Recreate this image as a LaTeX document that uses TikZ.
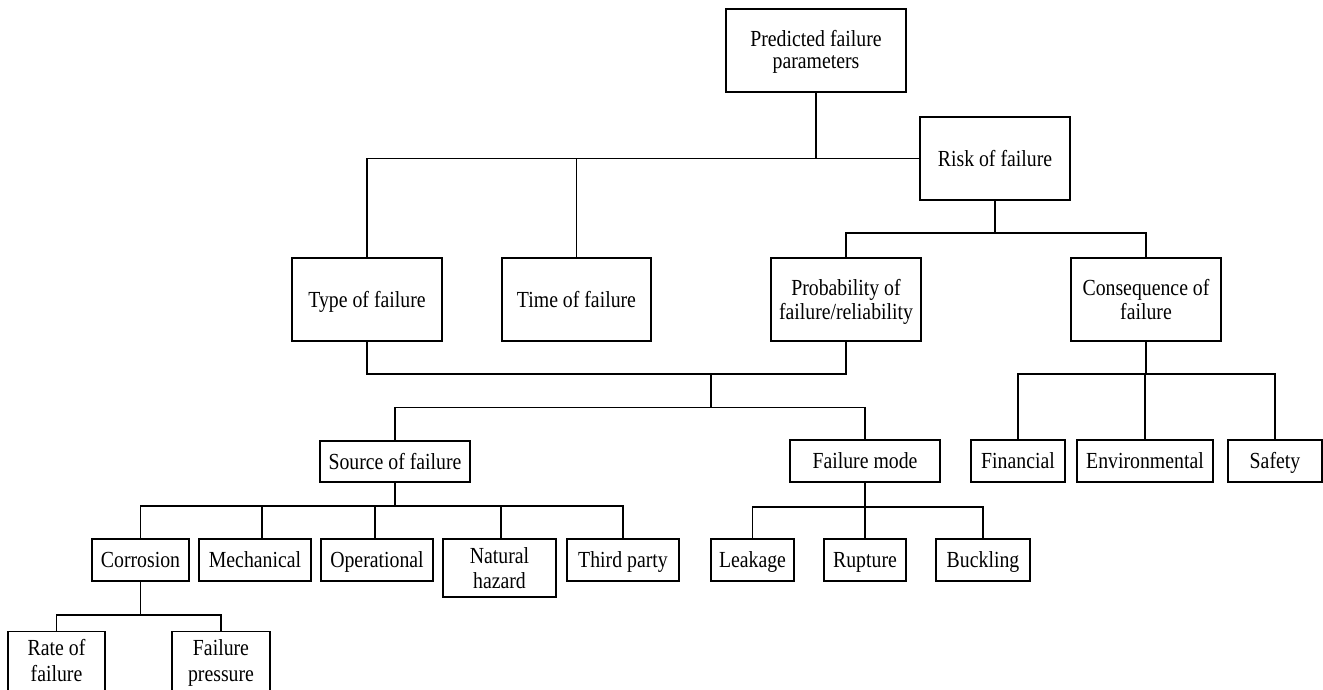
\documentclass[tikz,border=0pt]{standalone}
\usepackage{fontspec}
\setmainfont{Liberation Serif}[FakeStretch=0.86]
\begin{document}
\begin{tikzpicture}[x=1pt,y=-1pt,
  box/.style={draw,line width=1.1pt,inner sep=0pt,align=center,
    font=\fontsize{23}{24}\selectfont},
  one/.style={text height=17.5pt,text depth=2pt},
  two/.style={text height=#1,text depth=2pt},
  link/.style={line width=1.1pt}]
\useasboundingbox (0,0) rectangle (1323,689);
\clip (0,0) rectangle (1323,689);
% nodes
\node[box,two=38pt,font=\fontsize{23}{22}\selectfont,minimum width=180,minimum height=83] (pred) at (816,50.5) {Predicted failure\\parameters};
\node[box,one,minimum width=150,minimum height=83] (risk) at (995,158.5) {Risk of failure};
\node[box,one,minimum width=150,minimum height=83] (type) at (367,299.5) {Type of failure};
\node[box,one,minimum width=149,minimum height=83] (time) at (576.5,299.5) {Time of failure};
\node[box,two=42pt,minimum width=150,minimum height=83] (prob) at (846,299.5) {Probability of\\failure/reliability};
\node[box,two=42pt,minimum width=150,minimum height=83] (cons) at (1146,299.5) {Consequence of\\failure};
\node[box,one,minimum width=150,minimum height=41] (source) at (395,461.5) {Source of failure};
\node[box,one,minimum width=150,minimum height=42] (fmode) at (865,461) {Failure mode};
\node[box,one,minimum width=94,minimum height=42] (fin) at (1018,461) {Financial};
\node[box,one,minimum width=136,minimum height=42] (env) at (1145,461) {Environmental};
\node[box,one,minimum width=94,minimum height=42] (safe) at (1275,461) {Safety};
\node[box,one,minimum width=97,minimum height=42] (corr) at (140.5,560) {Corrosion};
\node[box,one,minimum width=112,minimum height=42] (mech) at (255,560) {Mechanical};
\node[box,one,minimum width=112,minimum height=42] (oper) at (377,560) {Operational};
\node[box,two=42pt,font=\fontsize{23}{25}\selectfont,minimum width=113,minimum height=58] (nat) at (499.5,568) {Natural\\hazard};
\node[box,one,minimum width=112,minimum height=42] (third) at (623,560) {Third party};
\node[box,one,minimum width=83,minimum height=42] (leak) at (752.5,560) {Leakage};
\node[box,one,minimum width=82,minimum height=42] (rupt) at (865,560) {Rupture};
\node[box,one,minimum width=94,minimum height=42] (buck) at (983,560) {Buckling};
\node[box,two=38pt,font=\fontsize{23}{26}\selectfont,minimum width=97,minimum height=64,anchor=north] (rate) at (56.5,631) {Rate of\\failure};
\node[box,two=38pt,font=\fontsize{23}{26}\selectfont,minimum width=98,minimum height=64,anchor=north] (fpress) at (221,631) {Failure\\pressure};
% junctions
\coordinate (rj) at (995,233);
\coordinate (pj) at (711,374);
\coordinate (sj) at (711,407.5);
\coordinate (cj) at (1146,374);
\coordinate (sb) at (395,506);
\coordinate (fb) at (865,507);
\coordinate (cb) at (140.5,615);
% connectors
\draw[link] (type.north) |- (risk.west);
\draw[link] (pred.south) -- (pred.south |- risk.west);
\draw[link] (time.north) -- (time.north |- risk.west);
\draw[link] (risk.south) -- (rj);
\draw[link] (prob.north) |- (rj) -| (cons.north);
\draw[link] (type.south) |- (pj) -| (prob.south);
\draw[link] (pj) -- (sj);
\draw[link] (source.north) |- (sj) -| (fmode.north);
\draw[link] (cons.south) -- (cj);
\draw[link] (fin.north) |- (cj) -| (safe.north);
\draw[link] (env.north) -- (env.north |- cj);
\draw[link] (source.south) -- (sb);
\draw[link] (corr.north) |- (sb) -| (third.north);
\draw[link] ([xshift=7pt]mech.north) -- ([xshift=7pt]mech.north |- sb);
\draw[link] ([xshift=-2pt]oper.north) -- ([xshift=-2pt]oper.north |- sb);
\draw[link] ([xshift=1.5pt]nat.north) -- ([xshift=1.5pt]nat.north |- sb);
\draw[link] (fmode.south) -- (fb);
\draw[link] (leak.north) |- (fb) -| (buck.north);
\draw[link] (rupt.north) -- (rupt.north |- fb);
\draw[link] (corr.south) -- (cb);
\draw[link] (rate.north) |- (cb) -| (fpress.north);
\end{tikzpicture}
\end{document}
